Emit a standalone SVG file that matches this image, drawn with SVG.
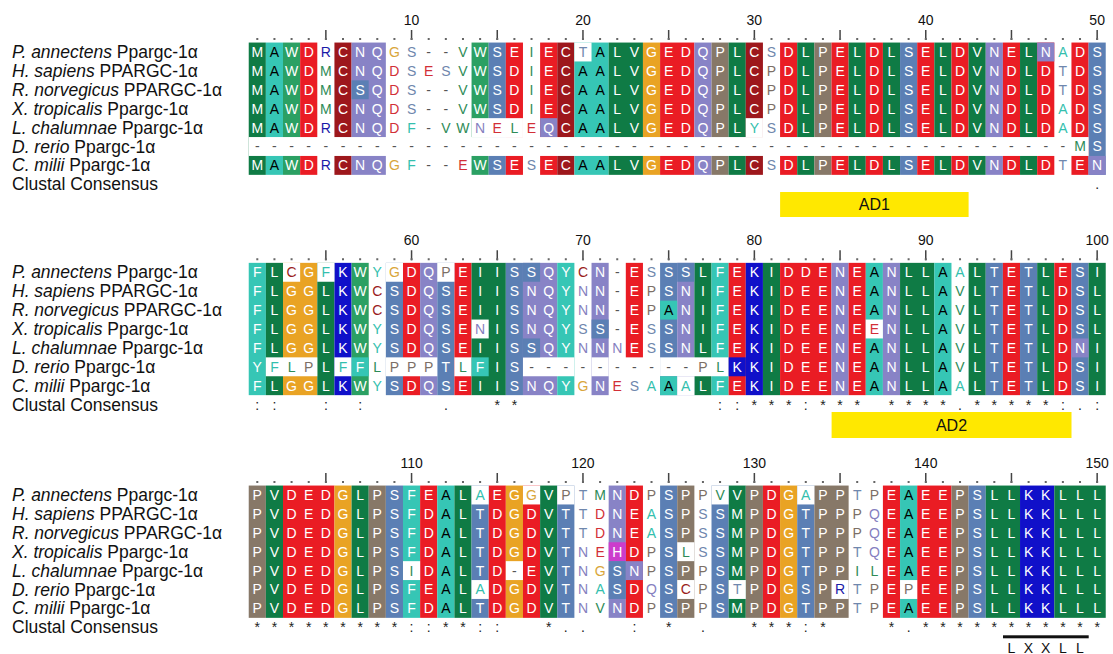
<svg xmlns="http://www.w3.org/2000/svg" xmlns:xlink="http://www.w3.org/1999/xlink" width="1113" height="654" viewBox="0 0 1113 654">
<style>
.seq{font-family:"Liberation Sans",Arial,sans-serif;font-size:14px;text-anchor:middle;fill:#fff}
.k{fill:#000}.t{fill:#34bfae}.l{fill:#2e8b57}.s{fill:#6f87ad}.p{fill:#7c6f66}.g{fill:#d9a63a}.r{fill:#d22f37}.c{fill:#9a1c20}.n{fill:#8580bf}.b{fill:#1a1aa8}.d{fill:#555}
.bG{fill:#0f7b45}.bW{fill:#2ba063}.bT{fill:#36c6b5}.bR{fill:#ea1c24}.bC{fill:#9d171c}.bN{fill:#8883c6}.bS{fill:#5b7fb4}.bO{fill:#e9a324}.bP{fill:#877868}.bK{fill:#1010c9}.bH{fill:#cc3ccc}.bw{fill:#fff}
.lab{font-family:"Liberation Sans",Arial,sans-serif;font-size:17.5px;fill:#111}
.it{font-style:italic}
.num{font-family:"Liberation Sans",Arial,sans-serif;font-size:14px;text-anchor:middle;fill:#111}
.cons{font-family:"Liberation Sans",Arial,sans-serif;font-size:14px;text-anchor:middle;fill:#222}
.tick{stroke:#444;stroke-width:1.5;fill:none}
.dots{stroke:#666;stroke-width:2;stroke-dasharray:2 15.14;fill:none}
.ad{fill:#ffe800}
.adt{font-family:"Liberation Sans",Arial,sans-serif;font-size:16px;text-anchor:middle;fill:#111}
</style>
<defs>
<g id="ruler"><path class="tick" d="M77.13 -12.5V-2.5M162.83 -12.5V-2.5M248.53 -12.5V-2.5M334.23 -12.5V-2.5M419.93 -12.5V-2.5M505.63 -12.5V-2.5M591.33 -12.5V-2.5M677.03 -12.5V-2.5M762.73 -12.5V-2.5M848.43 -12.5V-2.5"/><path class="dots" d="M7.57 -3.5H850"/></g>
<g id="labels" class="lab">
<text y="0"><tspan class="it">P. annectens</tspan> Ppargc-1α</text>
<text y="18.9"><tspan class="it">H. sapiens</tspan> PPARGC-1α</text>
<text y="37.8"><tspan class="it">R. norvegicus</tspan> PPARGC-1α</text>
<text y="56.7"><tspan class="it">X. tropicalis</tspan> Ppargc-1α</text>
<text y="75.6"><tspan class="it">L. chalumnae</tspan> Ppargc-1α</text>
<text y="94.5"><tspan class="it">D. rerio</tspan> Ppargc-1α</text>
<text y="113.4"><tspan class="it">C. milii</tspan> Ppargc-1α</text>
<text y="132.3">Clustal Consensus</text>
</g>
</defs>
<rect width="1113" height="654" fill="#fff"/>
<g id="names">
<use xlink:href="#labels" transform="translate(12,58)"/>
<use xlink:href="#labels" transform="translate(12,278.3)"/>
<use xlink:href="#labels" transform="translate(12,501)"/>
</g>
<g id="block1" transform="translate(248.73,42.55)">
<g id="shade1">
<rect class="bG" x="0" y="0" width="17.14" height="132.3"/>
<rect class="bT" x="17.14" y="0" width="17.14" height="132.3"/>
<rect class="bW" x="34.28" y="0" width="17.14" height="132.3"/>
<rect class="bR" x="51.42" y="0" width="17.14" height="132.3"/>
<rect class="bC" x="85.7" y="0" width="17.14" height="132.3"/>
<rect class="bN" x="102.84" y="0" width="34.28" height="132.3"/>
<rect class="bW" x="222.82" y="0" width="17.14" height="132.3"/>
<rect class="bS" x="239.96" y="0" width="17.14" height="132.3"/>
<rect class="bR" x="257.1" y="0" width="17.14" height="132.3"/>
<rect class="bR" x="291.38" y="0" width="17.14" height="132.3"/>
<rect class="bC" x="308.52" y="0" width="17.14" height="132.3"/>
<rect class="bT" x="325.66" y="0" width="34.28" height="132.3"/>
<rect class="bG" x="359.94" y="0" width="34.28" height="132.3"/>
<rect class="bO" x="394.22" y="0" width="17.14" height="132.3"/>
<rect class="bR" x="411.36" y="0" width="34.28" height="132.3"/>
<rect class="bN" x="445.64" y="0" width="17.14" height="132.3"/>
<rect class="bP" x="462.78" y="0" width="17.14" height="132.3"/>
<rect class="bG" x="479.92" y="0" width="17.14" height="132.3"/>
<rect class="bC" x="497.06" y="0" width="17.14" height="132.3"/>
<rect class="bR" x="531.34" y="0" width="17.14" height="132.3"/>
<rect class="bG" x="548.48" y="0" width="17.14" height="132.3"/>
<rect class="bP" x="565.62" y="0" width="17.14" height="132.3"/>
<rect class="bR" x="582.76" y="0" width="17.14" height="132.3"/>
<rect class="bG" x="599.9" y="0" width="17.14" height="132.3"/>
<rect class="bR" x="617.04" y="0" width="17.14" height="132.3"/>
<rect class="bG" x="634.18" y="0" width="17.14" height="132.3"/>
<rect class="bS" x="651.32" y="0" width="17.14" height="132.3"/>
<rect class="bR" x="668.46" y="0" width="17.14" height="132.3"/>
<rect class="bG" x="685.6" y="0" width="17.14" height="132.3"/>
<rect class="bR" x="702.74" y="0" width="17.14" height="132.3"/>
<rect class="bG" x="719.88" y="0" width="17.14" height="132.3"/>
<rect class="bN" x="737.02" y="0" width="17.14" height="132.3"/>
<rect class="bR" x="754.16" y="0" width="17.14" height="132.3"/>
<rect class="bG" x="771.3" y="0" width="17.14" height="132.3"/>
<rect class="bR" x="788.44" y="0" width="17.14" height="132.3"/>
<rect class="bR" x="822.72" y="0" width="17.14" height="132.3"/>
<rect class="bS" x="839.86" y="0" width="17.14" height="132.3"/>
<rect class="bS" x="102.84" y="37.8" width="17.14" height="18.9"/>
<rect class="bN" x="291.38" y="75.6" width="17.14" height="18.9"/>
<rect class="bN" x="788.44" y="0" width="17.14" height="18.9"/>
<rect class="bN" x="839.86" y="113.4" width="17.14" height="18.9"/>
<rect class="bw" x="222.82" y="75.6" width="51.42" height="18.9"/>
<rect class="bw" x="497.06" y="75.6" width="17.14" height="18.9"/>
<rect class="bw" x="325.66" y="0" width="17.14" height="18.9"/>
<rect class="bw" x="0" y="94.5" width="839.86" height="18.9"/>
</g>
<use xlink:href="#ruler"/>
<text class="num" y="-18"><tspan x="162.83">10</tspan><tspan x="334.23">20</tspan><tspan x="505.63">30</tspan><tspan x="677.03">40</tspan><tspan x="848.43">50</tspan></text>
<text class="seq" y="14.45" x="8.57 25.71 42.85 59.99 77.13 94.27 111.41 128.55 145.69 162.83 179.97 197.11 214.25 231.39 248.53 265.67 282.81 299.95 317.09 334.23 351.37 368.51 385.65 402.79 419.93 437.07 454.21 471.35 488.49 505.63 522.77 539.91 557.05 574.19 591.33 608.47 625.61 642.75 659.89 677.03 694.17 711.31 728.45 745.59 762.73 779.87 797.01 814.15 831.29 848.43">M<tspan class="k">A</tspan>WD<tspan class="b">R</tspan>CNQ<tspan class="g">G</tspan><tspan class="s">S</tspan><tspan class="d">--</tspan><tspan class="l">V</tspan>WSE<tspan class="l">I</tspan>EC<tspan class="s">T</tspan><tspan class="k">A</tspan>LVGEDQPLC<tspan class="s">S</tspan>DLPELDLSELDVNELN<tspan class="t">A</tspan>DS</text>
<text class="seq" y="33.35" x="8.57 25.71 42.85 59.99 77.13 94.27 111.41 128.55 145.69 162.83 179.97 197.11 214.25 231.39 248.53 265.67 282.81 299.95 317.09 334.23 351.37 368.51 385.65 402.79 419.93 437.07 454.21 471.35 488.49 505.63 522.77 539.91 557.05 574.19 591.33 608.47 625.61 642.75 659.89 677.03 694.17 711.31 728.45 745.59 762.73 779.87 797.01 814.15 831.29 848.43">M<tspan class="k">A</tspan>WD<tspan class="l">M</tspan>CNQ<tspan class="r">D</tspan><tspan class="s">S</tspan><tspan class="r">E</tspan><tspan class="s">S</tspan><tspan class="l">V</tspan>WSD<tspan class="l">I</tspan>EC<tspan class="k">AA</tspan>LVGEDQPLC<tspan class="p">P</tspan>DLPELDLSELDVNDLD<tspan class="s">T</tspan>DS</text>
<text class="seq" y="52.25" x="8.57 25.71 42.85 59.99 77.13 94.27 111.41 128.55 145.69 162.83 179.97 197.11 214.25 231.39 248.53 265.67 282.81 299.95 317.09 334.23 351.37 368.51 385.65 402.79 419.93 437.07 454.21 471.35 488.49 505.63 522.77 539.91 557.05 574.19 591.33 608.47 625.61 642.75 659.89 677.03 694.17 711.31 728.45 745.59 762.73 779.87 797.01 814.15 831.29 848.43">M<tspan class="k">A</tspan>WD<tspan class="l">M</tspan>CSQ<tspan class="r">D</tspan><tspan class="s">S</tspan><tspan class="d">--</tspan><tspan class="l">V</tspan>WSD<tspan class="l">I</tspan>EC<tspan class="k">AA</tspan>LVGEDQPLC<tspan class="p">P</tspan>DLPELDLSELDVNDLD<tspan class="s">T</tspan>DS</text>
<text class="seq" y="71.15" x="8.57 25.71 42.85 59.99 77.13 94.27 111.41 128.55 145.69 162.83 179.97 197.11 214.25 231.39 248.53 265.67 282.81 299.95 317.09 334.23 351.37 368.51 385.65 402.79 419.93 437.07 454.21 471.35 488.49 505.63 522.77 539.91 557.05 574.19 591.33 608.47 625.61 642.75 659.89 677.03 694.17 711.31 728.45 745.59 762.73 779.87 797.01 814.15 831.29 848.43">M<tspan class="k">A</tspan>WD<tspan class="l">M</tspan>CNQ<tspan class="r">D</tspan><tspan class="s">S</tspan><tspan class="d">--</tspan><tspan class="l">V</tspan>WSD<tspan class="l">I</tspan>EC<tspan class="k">AA</tspan>LVGEDQPLC<tspan class="p">P</tspan>DLPELDLSELDVNDLD<tspan class="t">A</tspan>DS</text>
<text class="seq" y="90.05" x="8.57 25.71 42.85 59.99 77.13 94.27 111.41 128.55 145.69 162.83 179.97 197.11 214.25 231.39 248.53 265.67 282.81 299.95 317.09 334.23 351.37 368.51 385.65 402.79 419.93 437.07 454.21 471.35 488.49 505.63 522.77 539.91 557.05 574.19 591.33 608.47 625.61 642.75 659.89 677.03 694.17 711.31 728.45 745.59 762.73 779.87 797.01 814.15 831.29 848.43">M<tspan class="k">A</tspan>WD<tspan class="b">R</tspan>CNQ<tspan class="r">D</tspan><tspan class="t">F</tspan><tspan class="d">-</tspan><tspan class="l">VW</tspan><tspan class="n">N</tspan><tspan class="r">E</tspan><tspan class="l">L</tspan><tspan class="r">E</tspan>QC<tspan class="k">AA</tspan>LVGEDQPL<tspan class="t">Y</tspan><tspan class="s">S</tspan>DLPELDLSELDVNDLD<tspan class="t">A</tspan>DS</text>
<text class="seq" y="108.95" x="8.57 25.71 42.85 59.99 77.13 94.27 111.41 128.55 145.69 162.83 179.97 197.11 214.25 231.39 248.53 265.67 282.81 299.95 317.09 334.23 351.37 368.51 385.65 402.79 419.93 437.07 454.21 471.35 488.49 505.63 522.77 539.91 557.05 574.19 591.33 608.47 625.61 642.75 659.89 677.03 694.17 711.31 728.45 745.59 762.73 779.87 797.01 814.15 831.29 848.43"><tspan class="d">------------------------------------------------</tspan><tspan class="l">M</tspan>S</text>
<text class="seq" y="127.85" x="8.57 25.71 42.85 59.99 77.13 94.27 111.41 128.55 145.69 162.83 179.97 197.11 214.25 231.39 248.53 265.67 282.81 299.95 317.09 334.23 351.37 368.51 385.65 402.79 419.93 437.07 454.21 471.35 488.49 505.63 522.77 539.91 557.05 574.19 591.33 608.47 625.61 642.75 659.89 677.03 694.17 711.31 728.45 745.59 762.73 779.87 797.01 814.15 831.29 848.43">M<tspan class="k">A</tspan>WD<tspan class="b">R</tspan>CNQ<tspan class="g">G</tspan><tspan class="t">F</tspan><tspan class="d">--</tspan><tspan class="r">E</tspan>WSE<tspan class="s">S</tspan>EC<tspan class="k">AA</tspan>LVGEDQPLC<tspan class="s">S</tspan>DLPELDLSELDVNDLD<tspan class="s">T</tspan>EN</text>
<text class="cons" y="146.85" x="848.43">.</text>
</g>
<g id="block2" transform="translate(248.73,262.85)">
<g id="shade2">
<rect class="bT" x="0" y="0" width="17.14" height="132.3"/>
<rect class="bG" x="17.14" y="0" width="17.14" height="132.3"/>
<rect class="bO" x="34.28" y="0" width="34.28" height="132.3"/>
<rect class="bG" x="68.56" y="0" width="17.14" height="132.3"/>
<rect class="bK" x="85.7" y="0" width="17.14" height="132.3"/>
<rect class="bW" x="102.84" y="0" width="17.14" height="132.3"/>
<rect class="bS" x="137.12" y="0" width="17.14" height="132.3"/>
<rect class="bR" x="154.26" y="0" width="17.14" height="132.3"/>
<rect class="bN" x="171.4" y="0" width="17.14" height="132.3"/>
<rect class="bS" x="188.54" y="0" width="17.14" height="132.3"/>
<rect class="bR" x="205.68" y="0" width="17.14" height="132.3"/>
<rect class="bG" x="222.82" y="0" width="34.28" height="132.3"/>
<rect class="bS" x="257.1" y="0" width="17.14" height="132.3"/>
<rect class="bN" x="274.24" y="0" width="34.28" height="132.3"/>
<rect class="bT" x="308.52" y="0" width="17.14" height="132.3"/>
<rect class="bN" x="342.8" y="0" width="17.14" height="132.3"/>
<rect class="bR" x="377.08" y="0" width="17.14" height="94.5"/>
<rect class="bS" x="411.36" y="0" width="17.14" height="132.3"/>
<rect class="bN" x="428.5" y="0" width="17.14" height="132.3"/>
<rect class="bG" x="445.64" y="0" width="17.14" height="132.3"/>
<rect class="bT" x="462.78" y="0" width="17.14" height="132.3"/>
<rect class="bR" x="479.92" y="0" width="17.14" height="132.3"/>
<rect class="bK" x="497.06" y="0" width="17.14" height="132.3"/>
<rect class="bG" x="514.2" y="0" width="17.14" height="132.3"/>
<rect class="bR" x="531.34" y="0" width="51.42" height="132.3"/>
<rect class="bN" x="582.76" y="0" width="17.14" height="132.3"/>
<rect class="bR" x="599.9" y="0" width="17.14" height="132.3"/>
<rect class="bT" x="617.04" y="0" width="17.14" height="132.3"/>
<rect class="bN" x="634.18" y="0" width="17.14" height="132.3"/>
<rect class="bG" x="651.32" y="0" width="34.28" height="132.3"/>
<rect class="bT" x="685.6" y="0" width="17.14" height="132.3"/>
<rect class="bG" x="719.88" y="0" width="17.14" height="132.3"/>
<rect class="bS" x="737.02" y="0" width="17.14" height="132.3"/>
<rect class="bR" x="754.16" y="0" width="17.14" height="132.3"/>
<rect class="bS" x="771.3" y="0" width="17.14" height="132.3"/>
<rect class="bG" x="788.44" y="0" width="17.14" height="132.3"/>
<rect class="bR" x="805.58" y="0" width="17.14" height="132.3"/>
<rect class="bS" x="822.72" y="0" width="17.14" height="132.3"/>
<rect class="bG" x="839.86" y="0" width="17.14" height="132.3"/>
<rect class="bw" x="17.14" y="94.5" width="51.42" height="18.9"/>
<rect class="bw" x="85.7" y="94.5" width="17.14" height="18.9"/>
<rect class="bw" x="137.12" y="94.5" width="51.42" height="18.9"/>
<rect class="bw" x="205.68" y="94.5" width="17.14" height="18.9"/>
<rect class="bw" x="274.24" y="94.5" width="51.42" height="18.9"/>
<rect class="bw" x="342.8" y="94.5" width="17.14" height="18.9"/>
<rect class="bw" x="411.36" y="94.5" width="68.56" height="18.9"/>
<rect class="bT" x="102.84" y="94.5" width="17.14" height="18.9"/>
<rect class="bT" x="222.82" y="94.5" width="17.14" height="18.9"/>
<rect class="bK" x="479.92" y="94.5" width="17.14" height="18.9"/>
<rect class="bw" x="34.28" y="0" width="17.14" height="18.9"/>
<rect class="bw" x="68.56" y="0" width="17.14" height="18.9"/>
<rect class="bw" x="137.12" y="0" width="17.14" height="18.9"/>
<rect class="bw" x="188.54" y="0" width="17.14" height="18.9"/>
<rect class="bS" x="274.24" y="0" width="17.14" height="18.9"/>
<rect class="bS" x="428.5" y="0" width="17.14" height="18.9"/>
<rect class="bw" x="222.82" y="56.7" width="17.14" height="18.9"/>
<rect class="bw" x="617.04" y="56.7" width="17.14" height="18.9"/>
<rect class="bS" x="342.8" y="56.7" width="17.14" height="18.9"/>
<rect class="bT" x="411.36" y="37.8" width="17.14" height="18.9"/>
<rect class="bS" x="274.24" y="75.6" width="17.14" height="18.9"/>
<rect class="bN" x="822.72" y="75.6" width="17.14" height="18.9"/>
<rect class="bT" x="411.36" y="113.4" width="17.14" height="18.9"/>
<rect class="bw" x="428.5" y="113.4" width="17.14" height="18.9"/>
</g>
<use xlink:href="#ruler"/>
<text class="num" y="-18"><tspan x="162.83">60</tspan><tspan x="334.23">70</tspan><tspan x="505.63">80</tspan><tspan x="677.03">90</tspan><tspan x="848.43">100</tspan></text>
<text class="seq" y="14.45" x="8.57 25.71 42.85 59.99 77.13 94.27 111.41 128.55 145.69 162.83 179.97 197.11 214.25 231.39 248.53 265.67 282.81 299.95 317.09 334.23 351.37 368.51 385.65 402.79 419.93 437.07 454.21 471.35 488.49 505.63 522.77 539.91 557.05 574.19 591.33 608.47 625.61 642.75 659.89 677.03 694.17 711.31 728.45 745.59 762.73 779.87 797.01 814.15 831.29 848.43">FL<tspan class="c">C</tspan>G<tspan class="t">F</tspan>KW<tspan class="t">Y</tspan><tspan class="g">G</tspan>DQ<tspan class="p">P</tspan>EIISSQY<tspan class="c">C</tspan>N<tspan class="d">-</tspan>E<tspan class="s">S</tspan>SSLFEKIDDENE<tspan class="k">A</tspan>NLL<tspan class="k">A</tspan><tspan class="t">A</tspan>LTETLESI</text>
<text class="seq" y="33.35" x="8.57 25.71 42.85 59.99 77.13 94.27 111.41 128.55 145.69 162.83 179.97 197.11 214.25 231.39 248.53 265.67 282.81 299.95 317.09 334.23 351.37 368.51 385.65 402.79 419.93 437.07 454.21 471.35 488.49 505.63 522.77 539.91 557.05 574.19 591.33 608.47 625.61 642.75 659.89 677.03 694.17 711.31 728.45 745.59 762.73 779.87 797.01 814.15 831.29 848.43">FLGGLKW<tspan class="c">C</tspan>SDQSEIISNQY<tspan class="n">N</tspan>N<tspan class="d">-</tspan>E<tspan class="p">P</tspan>SNIFEKIDEENE<tspan class="k">A</tspan>NLL<tspan class="k">A</tspan><tspan class="l">V</tspan>LTETLDSL</text>
<text class="seq" y="52.25" x="8.57 25.71 42.85 59.99 77.13 94.27 111.41 128.55 145.69 162.83 179.97 197.11 214.25 231.39 248.53 265.67 282.81 299.95 317.09 334.23 351.37 368.51 385.65 402.79 419.93 437.07 454.21 471.35 488.49 505.63 522.77 539.91 557.05 574.19 591.33 608.47 625.61 642.75 659.89 677.03 694.17 711.31 728.45 745.59 762.73 779.87 797.01 814.15 831.29 848.43">FLGGLKW<tspan class="c">C</tspan>SDQSEIISNQY<tspan class="n">N</tspan>N<tspan class="d">-</tspan>E<tspan class="p">P</tspan><tspan class="k">A</tspan>NIFEKIDEENE<tspan class="k">A</tspan>NLL<tspan class="k">A</tspan><tspan class="l">V</tspan>LTETLDSL</text>
<text class="seq" y="71.15" x="8.57 25.71 42.85 59.99 77.13 94.27 111.41 128.55 145.69 162.83 179.97 197.11 214.25 231.39 248.53 265.67 282.81 299.95 317.09 334.23 351.37 368.51 385.65 402.79 419.93 437.07 454.21 471.35 488.49 505.63 522.77 539.91 557.05 574.19 591.33 608.47 625.61 642.75 659.89 677.03 694.17 711.31 728.45 745.59 762.73 779.87 797.01 814.15 831.29 848.43">FLGGLKW<tspan class="t">Y</tspan>SDQSE<tspan class="n">N</tspan>ISNQY<tspan class="s">S</tspan>S<tspan class="d">-</tspan>E<tspan class="s">S</tspan>SNIFEKIDEENE<tspan class="r">E</tspan>NLL<tspan class="k">A</tspan><tspan class="l">V</tspan>LTETLDSL</text>
<text class="seq" y="90.05" x="8.57 25.71 42.85 59.99 77.13 94.27 111.41 128.55 145.69 162.83 179.97 197.11 214.25 231.39 248.53 265.67 282.81 299.95 317.09 334.23 351.37 368.51 385.65 402.79 419.93 437.07 454.21 471.35 488.49 505.63 522.77 539.91 557.05 574.19 591.33 608.47 625.61 642.75 659.89 677.03 694.17 711.31 728.45 745.59 762.73 779.87 797.01 814.15 831.29 848.43">FLGGLKW<tspan class="t">Y</tspan>SDQSEIISSQY<tspan class="n">N</tspan>N<tspan class="n">N</tspan>E<tspan class="s">S</tspan>SNLFEKIDEENE<tspan class="k">A</tspan>NLL<tspan class="k">A</tspan><tspan class="l">V</tspan>LTETLDNI</text>
<text class="seq" y="108.95" x="8.57 25.71 42.85 59.99 77.13 94.27 111.41 128.55 145.69 162.83 179.97 197.11 214.25 231.39 248.53 265.67 282.81 299.95 317.09 334.23 351.37 368.51 385.65 402.79 419.93 437.07 454.21 471.35 488.49 505.63 522.77 539.91 557.05 574.19 591.33 608.47 625.61 642.75 659.89 677.03 694.17 711.31 728.45 745.59 762.73 779.87 797.01 814.15 831.29 848.43">Y<tspan class="t">F</tspan><tspan class="l">L</tspan><tspan class="p">P</tspan>L<tspan class="t">F</tspan>F<tspan class="l">L</tspan><tspan class="p">PPP</tspan>T<tspan class="l">L</tspan>FIS<tspan class="d">----------</tspan><tspan class="p">P</tspan><tspan class="l">L</tspan>KKIDEENE<tspan class="k">A</tspan>NLL<tspan class="k">A</tspan><tspan class="l">V</tspan>LTETLDSI</text>
<text class="seq" y="127.85" x="8.57 25.71 42.85 59.99 77.13 94.27 111.41 128.55 145.69 162.83 179.97 197.11 214.25 231.39 248.53 265.67 282.81 299.95 317.09 334.23 351.37 368.51 385.65 402.79 419.93 437.07 454.21 471.35 488.49 505.63 522.77 539.91 557.05 574.19 591.33 608.47 625.61 642.75 659.89 677.03 694.17 711.31 728.45 745.59 762.73 779.87 797.01 814.15 831.29 848.43">FLGGLKW<tspan class="t">Y</tspan>SDQSEIISNQY<tspan class="g">G</tspan>N<tspan class="r">E</tspan><tspan class="s">S</tspan><tspan class="t">A</tspan><tspan class="k">A</tspan><tspan class="t">A</tspan>LFEKIDEENE<tspan class="k">A</tspan>NLL<tspan class="k">A</tspan><tspan class="t">A</tspan>LTETLDSI</text>
<text class="cons" y="146.85" x="8.57 25.71 77.13 111.41 197.11 248.53 265.67 471.35 488.49 505.63 522.77 539.91 557.05 574.19 591.33 608.47 642.75 659.89 677.03 694.17 711.31 728.45 745.59 762.73 779.87 797.01 814.15 831.29 848.43">::::.**::***:*******.*****:.:</text>
</g>
<g id="block3" transform="translate(248.73,485.55)">
<g id="shade3">
<rect class="bP" x="0" y="0" width="17.14" height="132.3"/>
<rect class="bG" x="17.14" y="0" width="17.14" height="132.3"/>
<rect class="bR" x="34.28" y="0" width="51.42" height="132.3"/>
<rect class="bO" x="85.7" y="0" width="17.14" height="132.3"/>
<rect class="bG" x="102.84" y="0" width="17.14" height="132.3"/>
<rect class="bP" x="119.98" y="0" width="17.14" height="132.3"/>
<rect class="bS" x="137.12" y="0" width="17.14" height="132.3"/>
<rect class="bT" x="154.26" y="0" width="17.14" height="132.3"/>
<rect class="bR" x="171.4" y="0" width="17.14" height="132.3"/>
<rect class="bT" x="188.54" y="0" width="17.14" height="132.3"/>
<rect class="bG" x="205.68" y="0" width="17.14" height="132.3"/>
<rect class="bS" x="222.82" y="0" width="17.14" height="132.3"/>
<rect class="bR" x="239.96" y="0" width="17.14" height="132.3"/>
<rect class="bO" x="257.1" y="0" width="17.14" height="132.3"/>
<rect class="bR" x="274.24" y="0" width="17.14" height="132.3"/>
<rect class="bG" x="291.38" y="0" width="17.14" height="132.3"/>
<rect class="bS" x="308.52" y="0" width="17.14" height="132.3"/>
<rect class="bN" x="359.94" y="0" width="17.14" height="132.3"/>
<rect class="bR" x="377.08" y="0" width="17.14" height="132.3"/>
<rect class="bS" x="411.36" y="0" width="17.14" height="132.3"/>
<rect class="bP" x="428.5" y="0" width="17.14" height="132.3"/>
<rect class="bS" x="462.78" y="0" width="17.14" height="132.3"/>
<rect class="bG" x="479.92" y="0" width="17.14" height="132.3"/>
<rect class="bP" x="497.06" y="0" width="17.14" height="132.3"/>
<rect class="bR" x="514.2" y="0" width="17.14" height="132.3"/>
<rect class="bO" x="531.34" y="0" width="17.14" height="132.3"/>
<rect class="bS" x="548.48" y="0" width="17.14" height="132.3"/>
<rect class="bP" x="565.62" y="0" width="34.28" height="132.3"/>
<rect class="bR" x="634.18" y="0" width="17.14" height="132.3"/>
<rect class="bT" x="651.32" y="0" width="17.14" height="132.3"/>
<rect class="bR" x="668.46" y="0" width="34.28" height="132.3"/>
<rect class="bP" x="702.74" y="0" width="17.14" height="132.3"/>
<rect class="bS" x="719.88" y="0" width="17.14" height="132.3"/>
<rect class="bG" x="737.02" y="0" width="34.28" height="132.3"/>
<rect class="bK" x="771.3" y="0" width="34.28" height="132.3"/>
<rect class="bG" x="805.58" y="0" width="51.42" height="132.3"/>
<rect class="bw" x="222.82" y="0" width="17.14" height="18.9"/>
<rect class="bw" x="274.24" y="0" width="17.14" height="18.9"/>
<rect class="bw" x="308.52" y="0" width="17.14" height="18.9"/>
<rect class="bw" x="462.78" y="0" width="17.14" height="18.9"/>
<rect class="bw" x="548.48" y="0" width="17.14" height="18.9"/>
<rect class="bw" x="154.26" y="75.6" width="17.14" height="18.9"/>
<rect class="bw" x="257.1" y="75.6" width="17.14" height="18.9"/>
<rect class="bw" x="222.82" y="94.5" width="17.14" height="18.9"/>
<rect class="bw" x="428.5" y="94.5" width="17.14" height="18.9"/>
<rect class="bw" x="479.92" y="94.5" width="17.14" height="18.9"/>
<rect class="bw" x="582.76" y="94.5" width="17.14" height="18.9"/>
<rect class="bw" x="651.32" y="94.5" width="17.14" height="18.9"/>
<rect class="bw" x="428.5" y="56.7" width="17.14" height="18.9"/>
<rect class="bH" x="359.94" y="56.7" width="17.14" height="18.9"/>
<rect class="bS" x="359.94" y="75.6" width="17.14" height="37.8"/>
<rect class="bN" x="377.08" y="75.6" width="17.14" height="18.9"/>
</g>
<use xlink:href="#ruler"/>
<text class="num" y="-18"><tspan x="162.83">110</tspan><tspan x="334.23">120</tspan><tspan x="505.63">130</tspan><tspan x="677.03">140</tspan><tspan x="848.43">150</tspan></text>
<text class="seq" y="14.45" x="8.57 25.71 42.85 59.99 77.13 94.27 111.41 128.55 145.69 162.83 179.97 197.11 214.25 231.39 248.53 265.67 282.81 299.95 317.09 334.23 351.37 368.51 385.65 402.79 419.93 437.07 454.21 471.35 488.49 505.63 522.77 539.91 557.05 574.19 591.33 608.47 625.61 642.75 659.89 677.03 694.17 711.31 728.45 745.59 762.73 779.87 797.01 814.15 831.29 848.43">PVDEDGLPSFE<tspan class="k">A</tspan>L<tspan class="t">A</tspan>EG<tspan class="g">G</tspan>V<tspan class="p">P</tspan><tspan class="s">T</tspan><tspan class="l">M</tspan>ND<tspan class="p">P</tspan>SP<tspan class="p">P</tspan><tspan class="l">V</tspan>VPDG<tspan class="t">A</tspan>PP<tspan class="s">T</tspan><tspan class="p">P</tspan>E<tspan class="k">A</tspan>EEPSLLKKLLL</text>
<text class="seq" y="33.35" x="8.57 25.71 42.85 59.99 77.13 94.27 111.41 128.55 145.69 162.83 179.97 197.11 214.25 231.39 248.53 265.67 282.81 299.95 317.09 334.23 351.37 368.51 385.65 402.79 419.93 437.07 454.21 471.35 488.49 505.63 522.77 539.91 557.05 574.19 591.33 608.47 625.61 642.75 659.89 677.03 694.17 711.31 728.45 745.59 762.73 779.87 797.01 814.15 831.29 848.43">PVDEDGLPSFD<tspan class="k">A</tspan>LTDGDVT<tspan class="s">T</tspan><tspan class="r">D</tspan>NE<tspan class="t">A</tspan>SP<tspan class="s">S</tspan>SMPDGTPP<tspan class="p">P</tspan><tspan class="n">Q</tspan>E<tspan class="k">A</tspan>EEPSLLKKLLL</text>
<text class="seq" y="52.25" x="8.57 25.71 42.85 59.99 77.13 94.27 111.41 128.55 145.69 162.83 179.97 197.11 214.25 231.39 248.53 265.67 282.81 299.95 317.09 334.23 351.37 368.51 385.65 402.79 419.93 437.07 454.21 471.35 488.49 505.63 522.77 539.91 557.05 574.19 591.33 608.47 625.61 642.75 659.89 677.03 694.17 711.31 728.45 745.59 762.73 779.87 797.01 814.15 831.29 848.43">PVDEDGLPSFD<tspan class="k">A</tspan>LTDGDVT<tspan class="s">T</tspan><tspan class="r">D</tspan>NE<tspan class="t">A</tspan>SP<tspan class="s">S</tspan>SMPDGTPP<tspan class="p">P</tspan><tspan class="n">Q</tspan>E<tspan class="k">A</tspan>EEPSLLKKLLL</text>
<text class="seq" y="71.15" x="8.57 25.71 42.85 59.99 77.13 94.27 111.41 128.55 145.69 162.83 179.97 197.11 214.25 231.39 248.53 265.67 282.81 299.95 317.09 334.23 351.37 368.51 385.65 402.79 419.93 437.07 454.21 471.35 488.49 505.63 522.77 539.91 557.05 574.19 591.33 608.47 625.61 642.75 659.89 677.03 694.17 711.31 728.45 745.59 762.73 779.87 797.01 814.15 831.29 848.43">PVDEDGLPSFD<tspan class="k">A</tspan>LTDGDVT<tspan class="n">N</tspan><tspan class="r">E</tspan>HD<tspan class="p">P</tspan>S<tspan class="l">L</tspan><tspan class="s">S</tspan>SMPDGTPP<tspan class="s">T</tspan><tspan class="n">Q</tspan>E<tspan class="k">A</tspan>EEPSLLKKLLL</text>
<text class="seq" y="90.05" x="8.57 25.71 42.85 59.99 77.13 94.27 111.41 128.55 145.69 162.83 179.97 197.11 214.25 231.39 248.53 265.67 282.81 299.95 317.09 334.23 351.37 368.51 385.65 402.79 419.93 437.07 454.21 471.35 488.49 505.63 522.77 539.91 557.05 574.19 591.33 608.47 625.61 642.75 659.89 677.03 694.17 711.31 728.45 745.59 762.73 779.87 797.01 814.15 831.29 848.43">PVDEDGLPS<tspan class="l">I</tspan>D<tspan class="k">A</tspan>LTD<tspan class="d">-</tspan>EVT<tspan class="n">N</tspan><tspan class="g">G</tspan>SN<tspan class="p">P</tspan>SP<tspan class="p">P</tspan>SMPDGTPP<tspan class="l">IL</tspan>E<tspan class="k">A</tspan>EEPSLLKKLLL</text>
<text class="seq" y="108.95" x="8.57 25.71 42.85 59.99 77.13 94.27 111.41 128.55 145.69 162.83 179.97 197.11 214.25 231.39 248.53 265.67 282.81 299.95 317.09 334.23 351.37 368.51 385.65 402.79 419.93 437.07 454.21 471.35 488.49 505.63 522.77 539.91 557.05 574.19 591.33 608.47 625.61 642.75 659.89 677.03 694.17 711.31 728.45 745.59 762.73 779.87 797.01 814.15 831.29 848.43">PVDEDGLPSFE<tspan class="k">A</tspan>L<tspan class="t">A</tspan>DGDVT<tspan class="n">N</tspan><tspan class="t">A</tspan>SD<tspan class="n">Q</tspan>S<tspan class="c">C</tspan><tspan class="p">P</tspan>S<tspan class="s">T</tspan>PDGSP<tspan class="b">R</tspan><tspan class="s">T</tspan><tspan class="p">P</tspan>E<tspan class="p">P</tspan>EEPSLLKKLLL</text>
<text class="seq" y="127.85" x="8.57 25.71 42.85 59.99 77.13 94.27 111.41 128.55 145.69 162.83 179.97 197.11 214.25 231.39 248.53 265.67 282.81 299.95 317.09 334.23 351.37 368.51 385.65 402.79 419.93 437.07 454.21 471.35 488.49 505.63 522.77 539.91 557.05 574.19 591.33 608.47 625.61 642.75 659.89 677.03 694.17 711.31 728.45 745.59 762.73 779.87 797.01 814.15 831.29 848.43">PVDEDGLPSFD<tspan class="k">A</tspan>LTDGDVT<tspan class="n">N</tspan><tspan class="l">V</tspan>ND<tspan class="p">P</tspan>SP<tspan class="p">P</tspan>SMPDGTPP<tspan class="s">T</tspan><tspan class="p">P</tspan>E<tspan class="k">A</tspan>EEPSLLKKLLL</text>
<text class="cons" y="146.85" x="8.57 25.71 42.85 59.99 77.13 94.27 111.41 128.55 145.69 162.83 179.97 197.11 214.25 231.39 248.53 299.95 317.09 334.23 385.65 419.93 454.21 505.63 522.77 539.91 557.05 574.19 642.75 659.89 677.03 694.17 711.31 728.45 745.59 762.73 779.87 797.01 814.15 831.29 848.43">*********::**::*..:*.***:**.***********</text>
</g>
<g id="domains">
<rect class="ad" x="780.1" y="192" width="188.5" height="25"/>
<text class="adt" x="874.3" y="210">AD1</text>
<rect class="ad" x="831.6" y="412" width="239.9" height="26"/>
<text class="adt" x="951.5" y="430.5">AD2</text>
<rect x="1003" y="635.3" width="85.7" height="3" fill="#111"/>
<text class="seq" style="fill:#111" y="653" x="1011.4 1028.5 1045.7 1062.8 1080">LXXLL</text>
</g>
</svg>
